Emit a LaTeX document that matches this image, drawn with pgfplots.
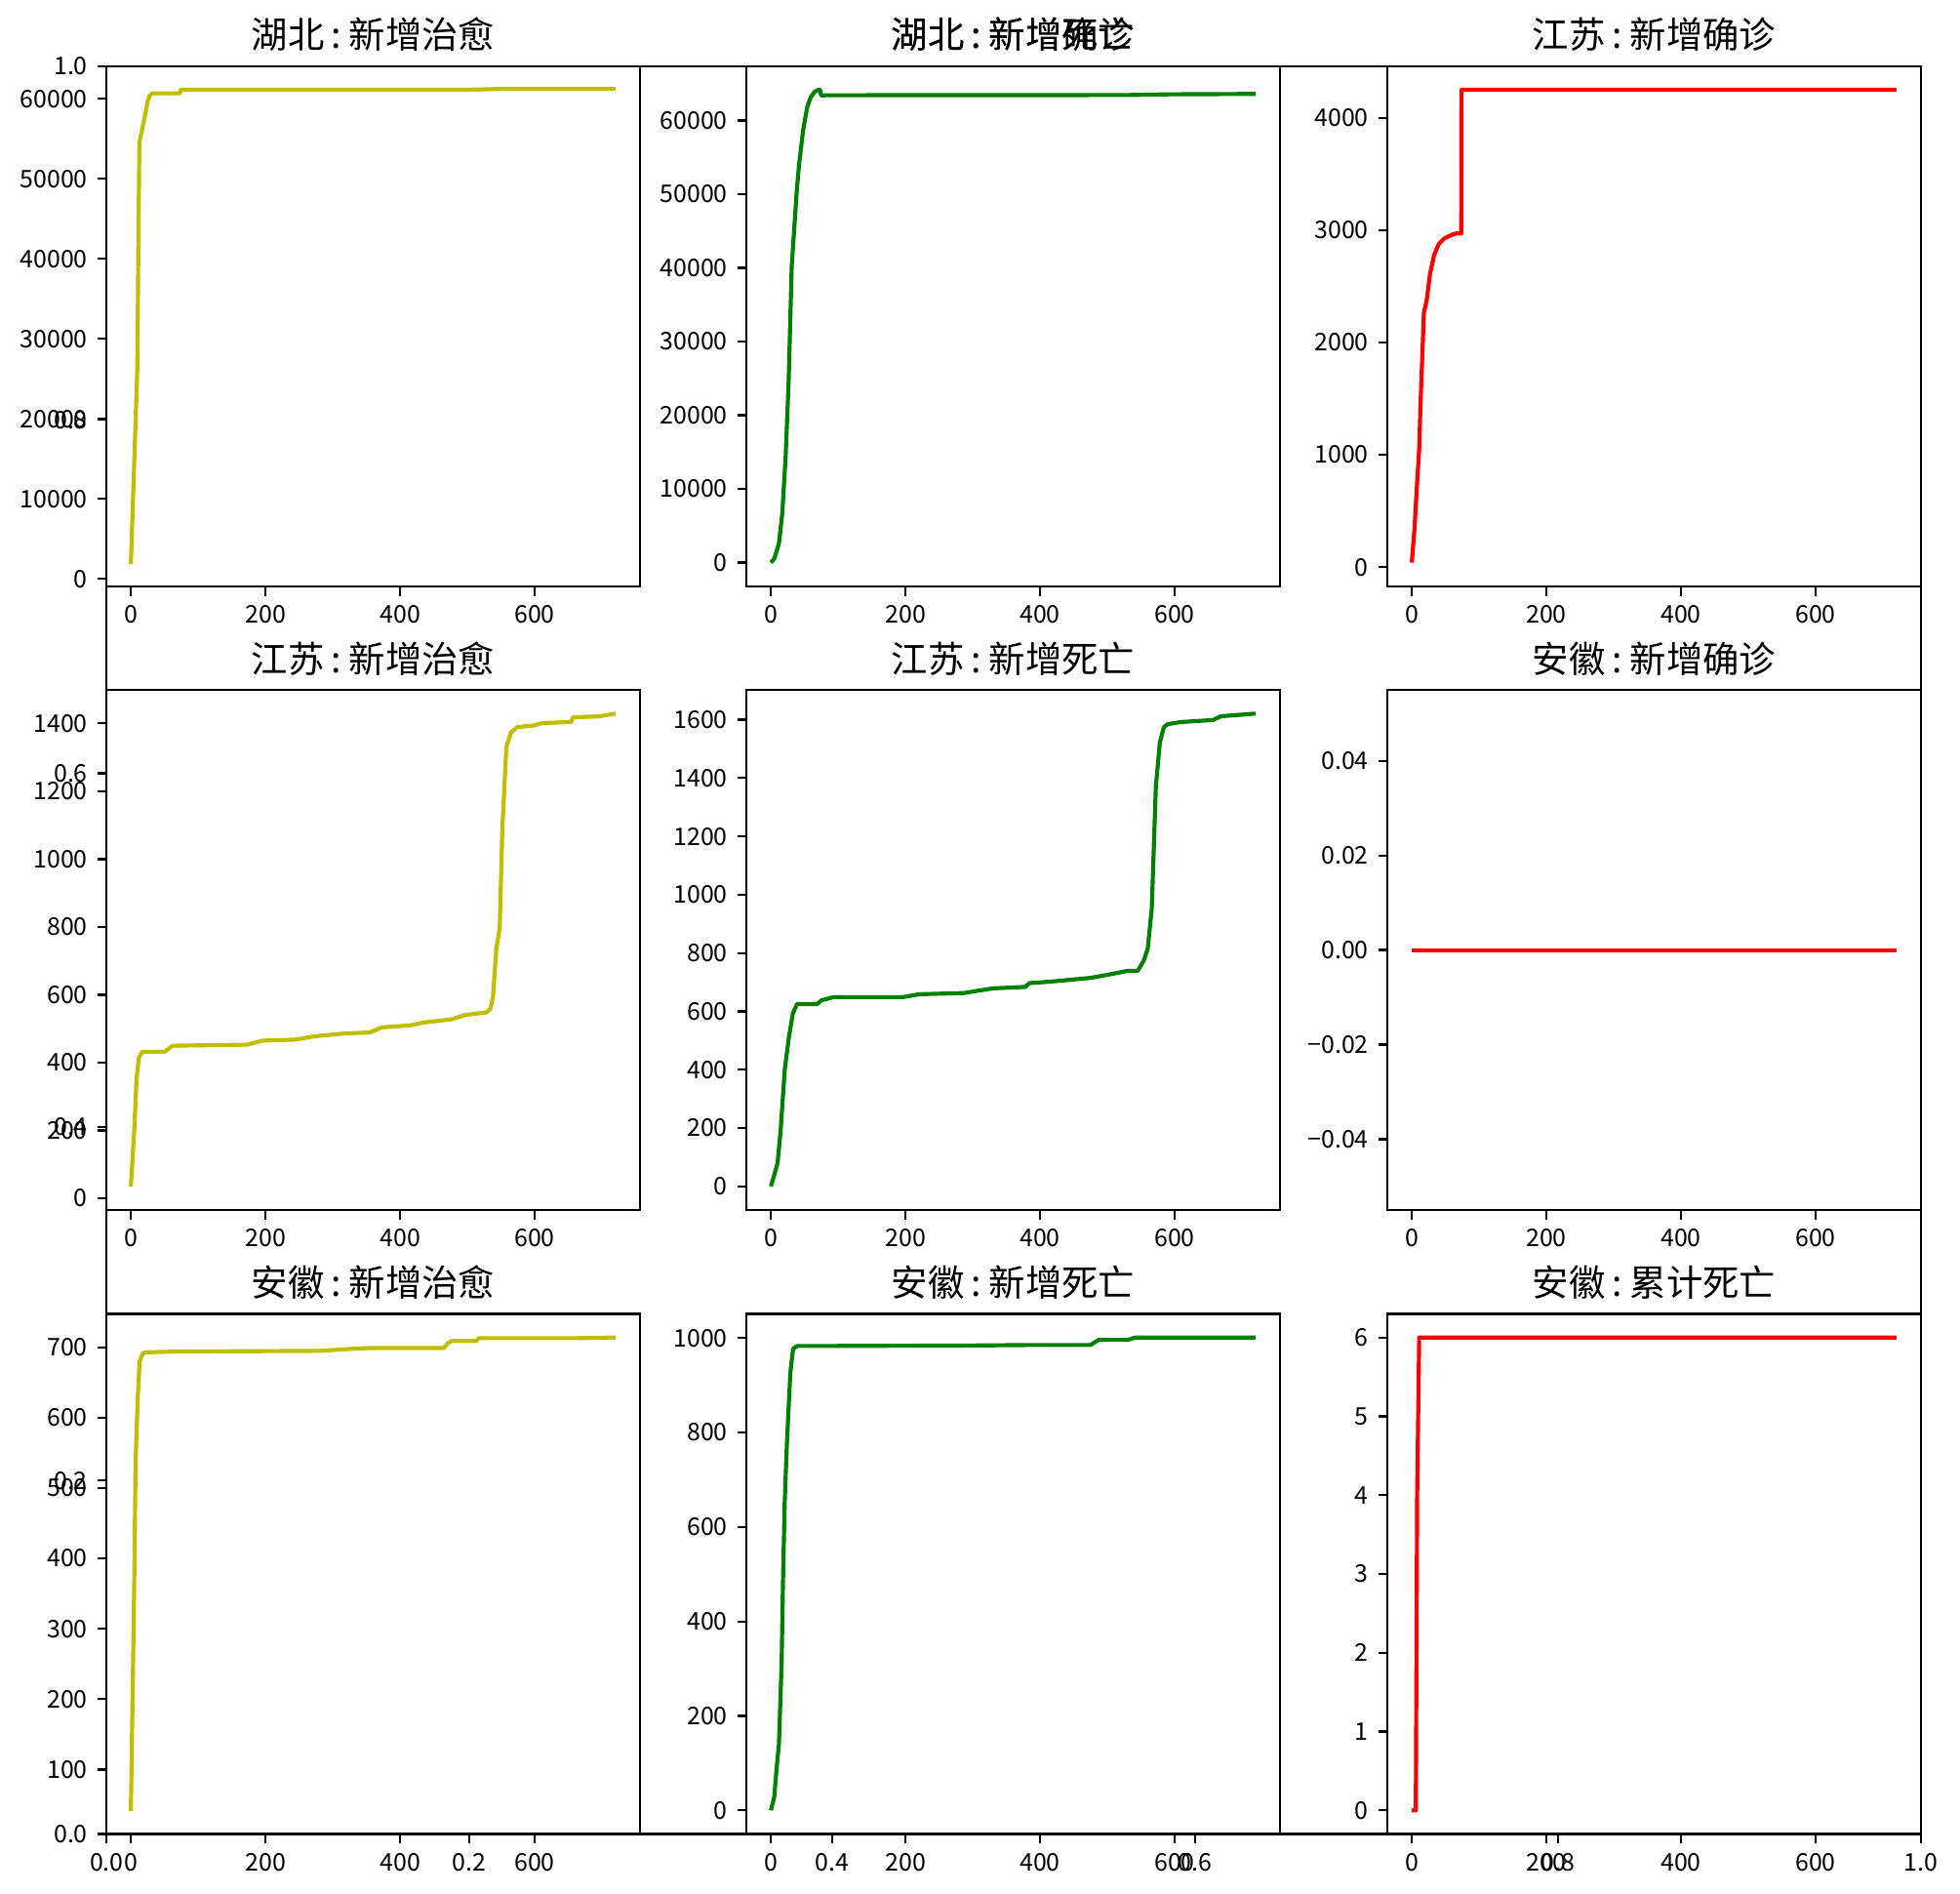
\documentclass[border=0pt]{standalone}
\usepackage{fontspec}
\setmainfont{Noto Sans CJK SC}
\usepackage{pgfplots}
\pgfplotsset{compat=1.18}
\definecolor{myy}{rgb}{0.75,0.75,0}
\definecolor{myg}{rgb}{0,0.5,0}
\definecolor{myr}{rgb}{1,0,0}
\pgfplotsset{
  base/.style={
    scale only axis,
    anchor=south west,
    tick pos=left,
    tick align=outside,
    major tick length=3.5bp,
    axis line style={line width=0.8bp},
    every tick/.style={line width=0.8bp, black},
    tick label style={font=\fontsize{9}{11}\selectfont},
    scaled ticks=false,
    /pgf/number format/1000 sep={},
    /pgf/number format/assume math mode=true,
  },
  sub/.style={
    base,
    width=196.7bp, height=191.9bp,
    xmin=-36, xmax=756,
    xtick={0,200,400,600},
    title style={font=\fontsize{13.5}{15}\selectfont, at={(0.5,1)}, anchor=base, yshift=0.5bp},
    every axis plot/.append style={line width=1.5bp, no marks, line join=round},
  },
}
\newcommand{\ttl}[2]{#1\hspace{0.2em}:\hspace{0.2em}#2}
\begin{document}
\begin{tikzpicture}
\path[use as bounding box] (0,0) rectangle (723.24bp,698.76bp);
% background axis
\begin{axis}[base, at={(39.35bp,22.14bp)}, width=669.42bp, height=652.21bp,
  xmin=0, xmax=1, ymin=0, ymax=1,
  xtick={0,0.2,0.4,0.6,0.8,1}, ytick={0,0.2,0.4,0.6,0.8,1},
  xticklabels={0.0,0.2,0.4,0.6,0.8,1.0}, yticklabels={0.0,0.2,0.4,0.6,0.8,1.0}]
\end{axis}
% row 1
\begin{axis}[sub, at={(39.35bp,482.47bp)}, ymin=-930, ymax=64107,
  ytick={0,10000,20000,30000,40000,50000,60000}, title={\ttl{湖北}{新增治愈}}]
\addplot[myy] coordinates {(0,1830) (9.5,26000) (10.5,35000) (11.5,45000) (12.7,54600) (15,55500) (20,57500) (25,59700) (28,60400) (32,60700) (73,60700) (74,61150) (500,61150) (560,61270) (720,61270)};
\end{axis}
\begin{axis}[sub, at={(275.5bp,482.47bp)}, ymin=-3208, ymax=67378,
  ytick={0,10000,20000,30000,40000,50000,60000},
  title={\makebox[0pt]{\ttl{湖北}{新增确诊}}\makebox[0pt]{\ttl{湖北}{新增死亡}}}]
\addplot[myg] coordinates {(0,0) (5,515) (12,2575) (17,6700) (22,14420) (26.5,24720) (31,40170) (38.5,50470) (42,54075) (48,58710) (54,61800) (59,63090) (65,63900) (71,64170) (73,64170) (75,63345) (81,63420) (530,63450) (593,63550) (720,63600)};
\end{axis}
\begin{axis}[sub, at={(512.0bp,482.47bp)}, ymin=-170.4, ymax=4460.4,
  ytick={0,1000,2000,3000,4000}, title={\ttl{江苏}{新增确诊}}]
\addplot[myr] coordinates {(0,40) (4,338) (8.5,812) (11,1049) (13,1455) (18,2267) (22,2369) (27,2606) (33,2775) (40,2876) (48.5,2927) (60.6,2961) (66.7,2971) (73.5,2971) (74,4250) (720,4250)};
\end{axis}
% row 2
\begin{axis}[sub, at={(39.35bp,252.31bp)}, ymin=-34.7, ymax=1498.7,
  ytick={0,200,400,600,800,1000,1200,1400}, title={\ttl{江苏}{新增治愈}}]
\addplot[myy] coordinates {(0,35) (5,200) (8.5,355) (12,415) (17,432) (50,432) (62,450) (172,453) (196,465) (245,468) (270,477) (306,484) (318,486) (355,489) (373,504) (416,510) (434,518) (477,528) (495,540) (507,543) (528,548) (534,558) (538,593) (543,736) (548,796) (552,1094) (558,1332) (565,1374) (574,1389) (599,1394) (611,1401) (654,1404) (657,1418) (696,1421) (720,1429)};
\end{axis}
\begin{axis}[sub, at={(275.5bp,252.31bp)}, ymin=-81.05, ymax=1702.05,
  ytick={0,200,400,600,800,1000,1200,1400,1600}, title={\ttl{江苏}{新增死亡}}]
\addplot[myg] coordinates {(0,0) (5,39) (10,80) (14.5,191) (20.6,399) (26.7,510) (32.7,593) (38.8,625) (69,625) (75,638) (93,649) (196,649) (221,659) (287,663) (305,670) (330,679) (378,684) (384,697) (415,702) (475,715) (499,725) (530,739) (545,739) (554,774) (560,815) (566,954) (572,1370) (578,1522) (584,1575) (590,1585) (609,1592) (657,1599) (669,1612) (720,1621)};
\end{axis}
\begin{axis}[sub, at={(512.0bp,252.31bp)}, ymin=-0.055, ymax=0.055,
  ytick={-0.04,-0.02,0,0.02,0.04}, yticklabels={−0.04,−0.02,0.00,0.02,0.04},
  title={\ttl{安徽}{新增确诊}}]
\addplot[myr] coordinates {(0,0) (720,0)};
\end{axis}
% row 3
\begin{axis}[sub, at={(39.35bp,22.14bp)}, ymin=8.4, ymax=747.6,
  ytick={100,200,300,400,500,600,700}, title={\ttl{安徽}{新增治愈}}]
\addplot[myy] coordinates {(0,41) (2.4,193) (5,365) (7,537) (10,623) (13,680) (18,692) (26,693) (68,694) (282,695) (330,698) (355,699) (465,699) (471,706) (477,709) (513,709) (517,713) (660,713) (720,714)};
\end{axis}
\begin{axis}[sub, at={(275.5bp,22.14bp)}, ymin=-50.05, ymax=1051.05,
  ytick={0,200,400,600,800,1000}, title={\ttl{安徽}{新增死亡}}]
\addplot[myg] coordinates {(0,0) (5,28) (8.5,88) (12,140) (16,311) (18,482) (20.6,653) (24,782) (29,927) (33,977) (39,983) (75,983) (293,984) (378,985) (475,985) (487,996) (530,996) (542,1001) (720,1001)};
\end{axis}
\begin{axis}[sub, at={(512.0bp,22.14bp)}, ymin=-0.3, ymax=6.3,
  ytick={0,1,2,3,4,5,6}, title={\ttl{安徽}{累计死亡}}]
\addplot[myr] coordinates {(0,0) (6,0) (8,4) (11,6) (720,6)};
\end{axis}
\end{tikzpicture}
\end{document}
